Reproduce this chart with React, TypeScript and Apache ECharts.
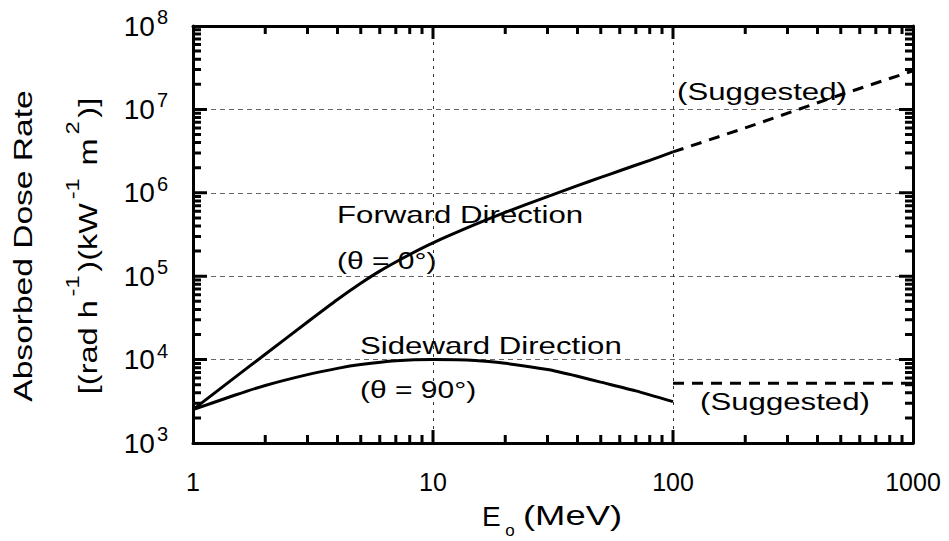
import React, { useEffect, useRef } from 'react';
import * as echarts from 'echarts';

// ---- Data ----
const energyForward = [1, 1.5, 2, 3, 4, 5, 6, 8, 10, 15, 20, 30, 40, 50, 60, 80, 100];
const doseForward = [2.51e3, 6.17e3, 1.16e4, 2.82e4, 5.25e4, 8.22e4, 1.15e5, 1.82e5, 2.51e5, 4.17e5, 5.82e5, 9.02e5, 1.22e6, 1.53e6, 1.84e6, 2.45e6, 3.09e6];
const energyForwardSuggested = [100, 200, 500, 1000];
const doseForwardSuggested = [3.09e6, 6.0e6, 1.5e7, 2.9e7];
const energySideward = [1, 1.5, 2, 3, 4, 5, 7, 10, 15, 20, 30, 40, 50, 70, 100];
const doseSideward = [2.51e3, 3.76e3, 4.9e3, 6.61e3, 7.85e3, 8.71e3, 9.66e3, 1.0e4, 9.77e3, 9.02e3, 7.59e3, 6.31e3, 5.37e3, 4.22e3, 3.13e3];
const energySidewardSuggested = [100, 1000];
const doseSidewardSuggested = [5.2e3, 5.2e3];
const xTickLabels = ['1', '10', '100', '1000'];
const xDecades = [1, 10, 100];
const yDecades = [1e3, 1e4, 1e5, 1e6, 1e7];
const xMajorInner = [10, 100];
const yMajorInner = [1e4, 1e5, 1e6, 1e7];
const minorMultipliers = [2, 3, 4, 5, 6, 7, 8, 9];
const xMin = 1;
const xMax = 1000;
const yMin = 1e3;
const yMax = 1e8;

const FONT = '"Liberation Sans", Arial, sans-serif';

// layout of the plot frame (pixels)
const W = 949;
const H = 541;
const GRID = { left: 193, right: 36, top: 26, bottom: 98 };
const X_DECADE_PX = (W - GRID.left - GRID.right) / Math.log10(xMax / xMin);
const Y_DECADE_PX = (H - GRID.top - GRID.bottom) / Math.log10(yMax / yMin);
const MINOR_LEN = 8;
const MAJOR_LEN_X = 13;
const MAJOR_LEN_Y = 14;

function pairs(xs: number[], ys: number[]) {
  return xs.map((x, i) => [x, ys[i]]);
}

// tick segments drawn through the log axes, separated by empty points
function xTickPoints(values: number[], len: number) {
  const f = Math.pow(10, len / Y_DECADE_PX);
  const pts: any[] = [];
  values.forEach((v) => {
    pts.push([v, yMin], [v, yMin * f], [v, null]);
    pts.push([v, yMax], [v, yMax / f], [v, null]);
  });
  return pts;
}
function yTickPoints(values: number[], len: number) {
  const f = Math.pow(10, len / X_DECADE_PX);
  const pts: any[] = [];
  values.forEach((v) => {
    pts.push([xMin, v], [xMin * f, v], [xMin, null]);
    pts.push([xMax, v], [xMax / f, v], [xMax, null]);
  });
  return pts;
}

const xMinorValues: number[] = [];
xDecades.forEach((d) => minorMultipliers.forEach((m) => xMinorValues.push(d * m)));
const yMinorValues: number[] = [];
yDecades.forEach((d) => minorMultipliers.forEach((m) => yMinorValues.push(d * m)));

export default function App() {
  const ref = useRef<HTMLDivElement>(null);

  useEffect(() => {
    if (!ref.current) return;
    const chart = echarts.init(ref.current, undefined, { renderer: 'svg' });

    const frameAxis = (position: string, isX: boolean): any => ({
      type: 'log',
      min: isX ? xMin : yMin,
      max: isX ? xMax : yMax,
      position,
      axisLine: { show: true, lineStyle: { color: '#000', width: 3 } },
      axisTick: { show: false },
      axisLabel: { show: false },
      splitLine: { show: false },
    });

    const tickPoints = [
      ...xTickPoints(xMinorValues, MINOR_LEN),
      ...xTickPoints(xMajorInner, MAJOR_LEN_X),
      ...yTickPoints(yMinorValues, MINOR_LEN),
      ...yTickPoints(yMajorInner, MAJOR_LEN_Y),
    ];

    // solid curves (forward, then sideward), separated by an empty point
    const solidCurves = [...pairs(energyForward, doseForward), [100, null], ...pairs(energySideward, doseSideward)];
    // dashed "suggested" extensions
    const suggestedCurves = [
      ...pairs(energyForwardSuggested, doseForwardSuggested),
      [1000, null],
      ...pairs(energySidewardSuggested, doseSidewardSuggested),
    ];

    const option: any = {
      animation: false,
      backgroundColor: '#fff',
      grid: { left: GRID.left, right: GRID.right, top: GRID.top, bottom: GRID.bottom },
      xAxis: [
        {
          ...frameAxis('bottom', true),
          axisLabel: {
            show: true,
            margin: 26,
            color: '#000',
            fontFamily: FONT,
            fontSize: 25,
            lineHeight: 25,
            showMinLabel: true,
            showMaxLabel: true,
            formatter: (v: number) => {
              const e = Math.round(Math.log10(v));
              return xTickLabels[e] ?? String(v);
            },
          },
          splitLine: { show: true, lineStyle: { color: '#333', width: 1, type: [3, 5] } },
        },
        frameAxis('top', true),
      ],
      yAxis: [
        {
          ...frameAxis('left', false),
          axisLabel: {
            show: true,
            margin: 25,
            color: '#000',
            showMinLabel: true,
            showMaxLabel: true,
            formatter: (v: number) => `{b|10}{s|${Math.round(Math.log10(v))}}`,
            rich: {
              b: { fontFamily: FONT, fontSize: 28, lineHeight: 38, color: '#000' },
              s: { fontFamily: FONT, fontSize: 20, lineHeight: 20, verticalAlign: 'top', color: '#000', padding: [0, 0, 0, 2] },
            },
          },
          splitLine: { show: true, lineStyle: { color: '#666', width: 1, type: [5, 4] } },
        },
        frameAxis('right', false),
      ],
      series: [
        {
          type: 'line',
          name: 'Forward / Sideward Direction',
          data: solidCurves,
          connectNulls: false,
          showSymbol: false,
          smooth: 0.2,
          lineStyle: { color: '#000', width: 3 },
          z: 4,
        },
        {
          type: 'line',
          name: '(Suggested)',
          data: suggestedCurves,
          connectNulls: false,
          showSymbol: false,
          lineStyle: { color: '#000', width: 3, type: [11, 8] },
          z: 4,
        },
        {
          type: 'line',
          name: 'ticks',
          data: tickPoints,
          connectNulls: false,
          showSymbol: false,
          clip: false,
          lineStyle: { color: '#000', width: 3, cap: 'butt' },
          z: 5,
        },
      ],
      graphic: [
        // y-axis title
        {
          type: 'text',
          x: 23,
          y: 246,
          rotation: Math.PI / 2,
          scaleX: 1.29,
          style: {
            text: 'Absorbed Dose Rate',
            fontFamily: FONT,
            fontSize: 26,
            fill: '#000',
            textAlign: 'center',
            textVerticalAlign: 'middle',
          },
        },
        {
          type: 'text',
          x: 88,
          y: 246,
          rotation: Math.PI / 2,
          scaleX: 1.25,
          style: {
            text: '{a|[(rad h}{s|-1}{a|)(kW}{s|-1}{a| m}{s|2}{a|)]}',
            textAlign: 'center',
            textVerticalAlign: 'middle',
            rich: {
              a: { fontFamily: FONT, fontSize: 26, lineHeight: 50, fill: '#000' },
              s: { fontFamily: FONT, fontSize: 19, lineHeight: 20, verticalAlign: 'top', fill: '#000', padding: [0, 3, 0, 3] },
            },
          },
        },
        // x-axis title
        {
          type: 'text',
          x: 482,
          y: 516,
          style: { text: 'E', fontFamily: FONT, fontSize: 28, fill: '#000', textAlign: 'left', textVerticalAlign: 'middle' },
        },
        {
          type: 'text',
          x: 510,
          y: 530,
          style: { text: 'o', fontFamily: FONT, fontSize: 17, fill: '#000', textAlign: 'center', textVerticalAlign: 'middle' },
        },
        {
          type: 'text',
          x: 523,
          y: 516,
          scaleX: 1.3,
          style: { text: '(MeV)', fontFamily: FONT, fontSize: 28, fill: '#000', textAlign: 'left', textVerticalAlign: 'middle' },
        },
        // annotations
        {
          type: 'text',
          x: 337,
          y: 215,
          scaleX: 1.3,
          style: { text: 'Forward Direction', fontFamily: FONT, fontSize: 24, fill: '#000', textAlign: 'left', textVerticalAlign: 'middle' },
        },
        {
          type: 'text',
          x: 337,
          y: 261,
          scaleX: 1.25,
          style: { text: '(θ = 0°)', fontFamily: FONT, fontSize: 24, fill: '#000', textAlign: 'left', textVerticalAlign: 'middle' },
        },
        {
          type: 'text',
          x: 360,
          y: 346,
          scaleX: 1.3,
          style: { text: 'Sideward Direction', fontFamily: FONT, fontSize: 24, fill: '#000', textAlign: 'left', textVerticalAlign: 'middle' },
        },
        {
          type: 'text',
          x: 360,
          y: 390,
          scaleX: 1.25,
          style: { text: '(θ = 90°)', fontFamily: FONT, fontSize: 24, fill: '#000', textAlign: 'left', textVerticalAlign: 'middle' },
        },
        {
          type: 'text',
          x: 677,
          y: 92,
          scaleX: 1.3,
          style: { text: '(Suggested)', fontFamily: FONT, fontSize: 24, fill: '#000', textAlign: 'left', textVerticalAlign: 'middle' },
        },
        {
          type: 'text',
          x: 700,
          y: 402,
          scaleX: 1.3,
          style: { text: '(Suggested)', fontFamily: FONT, fontSize: 24, fill: '#000', textAlign: 'left', textVerticalAlign: 'middle' },
        },
      ],
    };

    chart.setOption(option);
    return () => {
      chart.dispose();
    };
  }, []);

  return (
    <div
      ref={ref}
      style={{ position: 'fixed', left: 0, top: 0, width: W, height: H, background: '#fff' }}
    />
  );
}
